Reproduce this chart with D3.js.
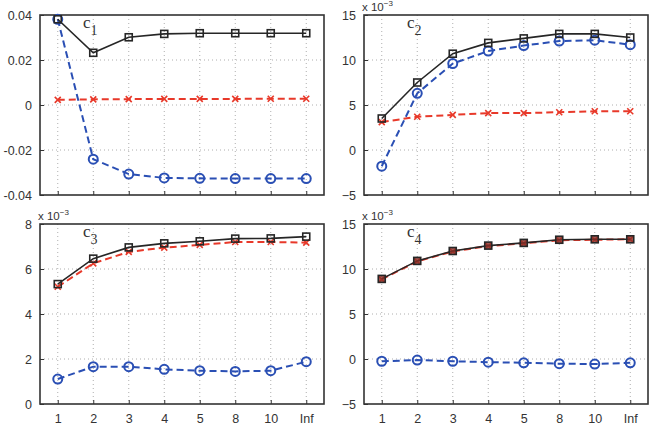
<!DOCTYPE html>
<html>
<head>
<meta charset="UTF-8">
<title>c1-c4</title>
<style>
body, html {
	padding: 0;
	margin: 0;
	background: #ffffff;
	overflow: hidden;
}
svg text {
	font-family: 'Liberation Sans', Arial, sans-serif;
	fill: #333333;
}
</style>
</head>
<body>
<div id="chart"></div>
<script src="https://cdn.jsdelivr.net/npm/d3@7"></script>
<script>
var categories = ["1", "2", "3", "4", "5", "8", "10", "Inf"];

// panel c1
var c1Black = [0.0381, 0.0232, 0.0301, 0.0316, 0.0319, 0.0319, 0.0319, 0.0319];
var c1Red = [0.0023, 0.0025, 0.0026, 0.0027, 0.0027, 0.0027, 0.0028, 0.0028];
var c1Blue = [0.0381, -0.0241, -0.0307, -0.0324, -0.0326, -0.0327, -0.0327, -0.0327];
var c1Ticks = [-0.04, -0.02, 0, 0.02, 0.04];
var c1TickLabels = ["-0.04", "-0.02", "0", "0.02", "0.04"];

// panels c2..c4 in units of 10^-3
var c2Black = [3.5, 7.5, 10.7, 11.9, 12.4, 12.9, 12.9, 12.5];
var c2Red = [3.1, 3.7, 3.9, 4.1, 4.1, 4.2, 4.3, 4.3];
var c2Blue = [-1.8, 6.3, 9.6, 11.0, 11.6, 12.1, 12.2, 11.7];
var c2Ticks = [-5, 0, 5, 10, 15];
var c2TickLabels = ["\u22125", "0", "5", "10", "15"];

var c3Black = [5.33, 6.46, 6.96, 7.14, 7.23, 7.35, 7.36, 7.44];
var c3Red = [5.21, 6.25, 6.76, 6.95, 7.07, 7.2, 7.2, 7.17];
var c3Blue = [1.11, 1.66, 1.66, 1.54, 1.48, 1.45, 1.48, 1.88];
var c3Ticks = [0, 2, 4, 6, 8];
var c3TickLabels = ["0", "2", "4", "6", "8"];

var c4Black = [8.9, 10.9, 12.0, 12.6, 12.9, 13.25, 13.3, 13.3];
var c4Red = [8.85, 10.85, 11.95, 12.55, 12.85, 13.2, 13.25, 13.3];
var c4Blue = [-0.25, -0.12, -0.25, -0.35, -0.42, -0.52, -0.56, -0.42];
var c4Ticks = [-5, 0, 5, 10, 15];
var c4TickLabels = ["\u22125", "0", "5", "10", "15"];

var panels = [
	{name: "1", black: c1Black, red: c1Red, blue: c1Blue, ticks: c1Ticks, labels: c1TickLabels, exp: false, x: 40, y: 15, showX: false},
	{name: "2", black: c2Black, red: c2Red, blue: c2Blue, ticks: c2Ticks, labels: c2TickLabels, exp: true, x: 364, y: 15, showX: false},
	{name: "3", black: c3Black, red: c3Red, blue: c3Blue, ticks: c3Ticks, labels: c3TickLabels, exp: true, x: 40, y: 224, showX: true},
	{name: "4", black: c4Black, red: c4Red, blue: c4Blue, ticks: c4Ticks, labels: c4TickLabels, exp: true, x: 364, y: 224, showX: true}
];

var width = 652;
var height = 426;
var pw = 284;
var ph = 180;

var blue = "#2a4fb4";
var red = "#e8392a";
var black = "#262626";

var svg = d3.select("#chart").append("svg").attr("width", width).attr("height", height);

panels.forEach(function(p) {
	var g = svg.append("g").attr("transform", "translate(" + p.x + "," + p.y + ")");

	var x = d3.scaleLinear().domain([0.5, categories.length + 0.5]).range([0, pw]);
	var y = d3.scaleLinear().domain(d3.extent(p.ticks)).range([ph, 0]);

	// dotted grid
	g.append("g").selectAll("line").data(categories).enter().append("line")
		.attr("x1", function(d, i) {return x(i + 1)}).attr("x2", function(d, i) {return x(i + 1)})
		.attr("y1", 0).attr("y2", ph)
		.attr("stroke", "#9a9a9a").attr("stroke-width", 0.8).attr("stroke-dasharray", "1,3");
	g.append("g").selectAll("line").data(p.ticks.slice(1, -1)).enter().append("line")
		.attr("x1", 0).attr("x2", pw)
		.attr("y1", function(d) {return y(d)}).attr("y2", function(d) {return y(d)})
		.attr("stroke", "#9a9a9a").attr("stroke-width", 0.8).attr("stroke-dasharray", "1,3");

	// y axis labels and inner ticks
	var yAxis = d3.axisLeft(y).tickValues(p.ticks).tickSizeInner(-4).tickSizeOuter(0).tickPadding(8)
		.tickFormat(function(d, i) {return p.labels[i]});
	var ya = g.append("g").call(yAxis);
	ya.select(".domain").remove();
	ya.selectAll("line").attr("stroke", "#333");
	ya.selectAll("text").attr("font-size", 12.5).attr("fill", "#333");

	var xAxis = d3.axisBottom(x).tickValues(d3.range(1, categories.length + 1)).tickSizeInner(-4).tickSizeOuter(0).tickPadding(10)
		.tickFormat(function(d) {return p.showX ? categories[d - 1] : ""});
	var xa = g.append("g").attr("transform", "translate(0," + ph + ")").call(xAxis);
	xa.select(".domain").remove();
	xa.selectAll("line").attr("stroke", "#333");
	xa.selectAll("text").attr("font-size", 12.5).attr("fill", "#333");

	// frame
	g.append("rect").attr("x", 0).attr("y", 0).attr("width", pw).attr("height", ph)
		.attr("fill", "none").attr("stroke", "#333").attr("stroke-width", 1.6);

	var line = d3.line().x(function(d, i) {return x(i + 1)}).y(function(d) {return y(d)});

	// red dashed with x markers
	g.append("path").datum(p.red).attr("d", line).attr("fill", "none")
		.attr("stroke", red).attr("stroke-width", 2).attr("stroke-dasharray", "7,4");
	g.append("g").selectAll("path").data(p.red).enter().append("path")
		.attr("transform", function(d, i) {return "translate(" + x(i + 1) + "," + y(d) + ")"})
		.attr("d", "M-3,-3L3,3M-3,3L3,-3").attr("stroke", red).attr("stroke-width", 1.6);

	// blue dashed with open circles
	g.append("path").datum(p.blue).attr("d", line).attr("fill", "none")
		.attr("stroke", blue).attr("stroke-width", 2).attr("stroke-dasharray", "7,4");
	g.append("g").selectAll("circle").data(p.blue).enter().append("circle")
		.attr("cx", function(d, i) {return x(i + 1)}).attr("cy", function(d) {return y(d)})
		.attr("r", 4.5).attr("fill", "none").attr("stroke", blue).attr("stroke-width", 2);

	// black solid with squares
	g.append("path").datum(p.black).attr("d", line).attr("fill", "none")
		.attr("stroke", black).attr("stroke-width", 1.6);
	g.append("g").selectAll("rect").data(p.black).enter().append("rect")
		.attr("x", function(d, i) {return x(i + 1) - 3.5}).attr("y", function(d) {return y(d) - 3.5})
		.attr("width", 7).attr("height", 7)
		.attr("fill", p.name == "4" ? "#8a3028" : "none").attr("fill-opacity", p.name == "4" ? 0.8 : 1)
		.attr("stroke", black).attr("stroke-width", 1.6);

	// panel label c_n
	var lab = g.append("text").attr("x", 43).attr("y", 13)
		.style("font-family", "'Liberation Serif', 'DejaVu Serif', serif").attr("font-size", 17).attr("fill", "#444");
	lab.append("tspan").text("c");
	lab.append("tspan").attr("dy", 7).attr("font-size", 14).text(p.name);

	// exponent label
	if (p.exp) {
		var ex = g.append("text").attr("x", -2).attr("y", -4).attr("font-size", 11.5).attr("fill", "#333");
		ex.append("tspan").text("x 10");
		ex.append("tspan").attr("dy", -5).attr("font-size", 8).text("\u22123");
	}
});
</script>
</body>
</html>
